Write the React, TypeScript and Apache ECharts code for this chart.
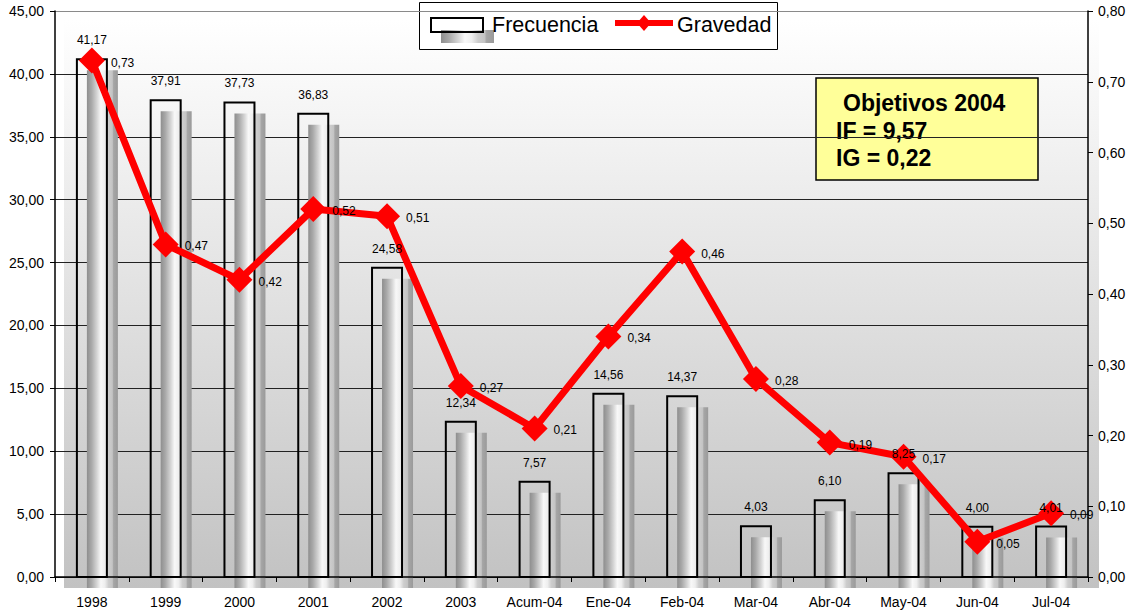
import React, { useEffect, useRef } from "react";
import * as echarts from "echarts";

// Categories and series values
const categories = [
  "1998", "1999", "2000", "2001", "2002", "2003", "Acum-04",
  "Ene-04", "Feb-04", "Mar-04", "Abr-04", "May-04", "Jun-04", "Jul-04",
];
const frecuencia = [41.17, 37.91, 37.73, 36.83, 24.58, 12.34, 7.57, 14.56, 14.37, 4.03, 6.1, 8.25, 4.0, 4.01];
const gravedad = [0.73, 0.47, 0.42, 0.52, 0.51, 0.27, 0.21, 0.34, 0.46, 0.28, 0.19, 0.17, 0.05, 0.09];

// Axis scales
const leftAxisRange = [0, 45];
const leftAxisStep = 5;
const rightAxisRange = [0, 0.8];
const rightAxisStep = 0.1;

// Legend and note box texts
const legendNames = ["Frecuencia", "Gravedad"];
const objetivosLines = ["Objetivos 2004", "IF = 9,57", "IG = 0,22"];

const FONT = "'Liberation Sans', Arial, sans-serif";
const fmt = (v: number) => v.toFixed(2).replace(".", ",");

const shadowStops = [
  { offset: 0, color: "#8e8e8e" },
  { offset: 0.15, color: "#a9a9a9" },
  { offset: 0.32, color: "#d4d4d4" },
  { offset: 0.45, color: "#f8f8f8" },
  { offset: 0.58, color: "#eeeeee" },
  { offset: 0.7, color: "#cdcdcd" },
  { offset: 0.82, color: "#c4c4c4" },
  { offset: 0.86, color: "#a6a6a6" },
  { offset: 1, color: "#9a9a9a" },
];

export default function App() {
  const ref = useRef<HTMLDivElement>(null);

  useEffect(() => {
    if (!ref.current) return;
    const chart = echarts.init(ref.current, undefined, { renderer: "svg" });

    const barData = frecuencia.map((v, i) => [i, v]);

    const option: any = {
      animation: false,
      textStyle: { fontFamily: FONT },
      grid: { left: 55, right: 49, top: 11, bottom: 36, containLabel: false },
      xAxis: {
        type: "category",
        data: categories,
        z: 3,
        axisLine: { lineStyle: { color: "#000", width: 1.5 } },
        axisTick: { show: true, length: 5, lineStyle: { color: "#000" } },
        axisLabel: { color: "#000", fontSize: 14, margin: 18, fontFamily: FONT, interval: 0 },
      },
      yAxis: [
        {
          type: "value",
          min: leftAxisRange[0],
          max: leftAxisRange[1],
          interval: leftAxisStep,
          axisLine: { show: true, lineStyle: { color: "#000", width: 1.5 } },
          axisTick: { show: true, length: 5, lineStyle: { color: "#000" } },
          axisLabel: { color: "#000", fontSize: 14, margin: 11, fontFamily: FONT, formatter: (v: number) => fmt(v) },
          splitLine: {
            show: true,
            lineStyle: {
              color: ["#222", "#222", "#222", "#222", "#222", "#222", "#222", "#222", "#222", "#8a8a8a"],
              width: 1,
            },
          },
        },
        {
          type: "value",
          position: "right",
          min: rightAxisRange[0],
          max: rightAxisRange[1],
          interval: rightAxisStep,
          axisLine: { show: true, lineStyle: { color: "#000", width: 1.5 } },
          axisTick: { show: true, length: 5, lineStyle: { color: "#000" } },
          axisLabel: { color: "#000", fontSize: 14, margin: 10, fontFamily: FONT, formatter: (v: number) => fmt(v) },
          splitLine: { show: false },
        },
      ],
      graphic: [
        // back wall with vertical shading
        {
          type: "rect",
          z: -1,
          silent: true,
          shape: { x: 64, y: 20, width: 1035, height: 568 },
          style: {
            fill: {
              type: "linear", x: 0, y: 0, x2: 0, y2: 1,
              colorStops: [
                { offset: 0, color: "#ffffff" },
                { offset: 1, color: "#c2c2c2" },
              ],
            },
          },
        },
        // legend
        {
          type: "group",
          z: 10,
          children: [
            { type: "rect", shape: { x: 419.5, y: 2.5, width: 358, height: 47 }, style: { fill: "#ffffff", stroke: "#000", lineWidth: 1 } },
            {
              type: "rect",
              shape: { x: 441, y: 30, width: 53, height: 13 },
              style: {
                fill: { type: "linear", x: 0, y: 0, x2: 1, y2: 0, colorStops: shadowStops },
              },
            },
            { type: "rect", shape: { x: 431, y: 18, width: 52, height: 14 }, style: { fill: "none", stroke: "#000", lineWidth: 2 } },
            {
              type: "text", x: 492, y: 25,
              style: { text: legendNames[0], fontSize: 21.5, fontFamily: FONT, fill: "#000", verticalAlign: "middle" },
            },
            { type: "line", shape: { x1: 615, y1: 23, x2: 673, y2: 23 }, style: { stroke: "#ff0000", lineWidth: 6 } },
            { type: "polygon", shape: { points: [[644, 15], [651, 23], [644, 31], [637, 23]] }, style: { fill: "#ff0000" } },
            {
              type: "text", x: 677, y: 25,
              style: { text: legendNames[1], fontSize: 21.5, fontFamily: FONT, fill: "#000", verticalAlign: "middle" },
            },
          ],
        },
        // objectives note
        {
          type: "group",
          z: 10,
          children: [
            { type: "rect", shape: { x: 816, y: 78, width: 222, height: 102 }, style: { fill: "#ffff99", stroke: "#000", lineWidth: 1.5 } },
            {
              type: "text", x: 843, y: 103,
              style: { text: objetivosLines[0], fontSize: 23, fontWeight: "bold", fontFamily: FONT, fill: "#000", verticalAlign: "middle" },
            },
            {
              type: "text", x: 836, y: 131,
              style: { text: objetivosLines[1], fontSize: 23, fontWeight: "bold", fontFamily: FONT, fill: "#000", verticalAlign: "middle" },
            },
            {
              type: "text", x: 836, y: 158,
              style: { text: objetivosLines[2], fontSize: 23, fontWeight: "bold", fontFamily: FONT, fill: "#000", verticalAlign: "middle" },
            },
          ],
        },
      ],
      series: [
        // Frecuencia bars: shaded cylinder offset behind an outlined column
        {
          type: "custom",
          name: legendNames[0],
          z: 2,
          silent: true,
          data: barData,
          encode: { x: 0, y: 1 },
          renderItem: (_params: any, api: any) => {
            const idx = api.value(0);
            const v = api.value(1);
            const top = api.coord([idx, v]);
            const base = api.coord([idx, 0]);
            const w = 30;
            const x = top[0] - w / 2;
            const h = base[1] - top[1];
            return {
              type: "group",
              children: [
                {
                  type: "rect",
                  shape: { x: x + 10, y: top[1] + 11, width: w + 1, height: h },
                  style: { fill: new echarts.graphic.LinearGradient(0, 0, 1, 0, shadowStops) },
                },
                {
                  type: "rect",
                  shape: { x, y: top[1], width: w, height: h },
                  style: { fill: "none", stroke: "#000", lineWidth: 2 },
                },
              ],
            };
          },
        },
        // Gravedad line
        {
          type: "line",
          name: legendNames[1],
          yAxisIndex: 1,
          z: 4,
          data: gravedad,
          symbol: "diamond",
          symbolSize: 26,
          lineStyle: { color: "#ff0000", width: 7 },
          itemStyle: { color: "#ff0000" },
          label: {
            show: true,
            position: "right",
            distance: 6,
            offset: [0, 2],
            color: "#000",
            fontSize: 12,
            fontFamily: FONT,
            formatter: (p: any) => fmt(p.value),
          },
        },
        // Frecuencia value labels above the columns
        {
          type: "custom",
          z: 5,
          silent: true,
          data: barData,
          encode: { x: 0, y: 1 },
          renderItem: (_params: any, api: any) => {
            const v = api.value(1);
            const p = api.coord([api.value(0), v]);
            return {
              type: "text",
              x: p[0],
              y: p[1] - 19,
              style: {
                text: fmt(v),
                fill: "#000",
                fontSize: 12,
                fontFamily: FONT,
                align: "center",
                verticalAlign: "middle",
              },
            };
          },
        },
      ],
    };

    chart.setOption(option);
    return () => chart.dispose();
  }, []);

  return (
    <div
      ref={ref}
      style={{ position: "absolute", left: 0, top: 0, width: 1137, height: 613, background: "#ffffff" }}
    />
  );
}
